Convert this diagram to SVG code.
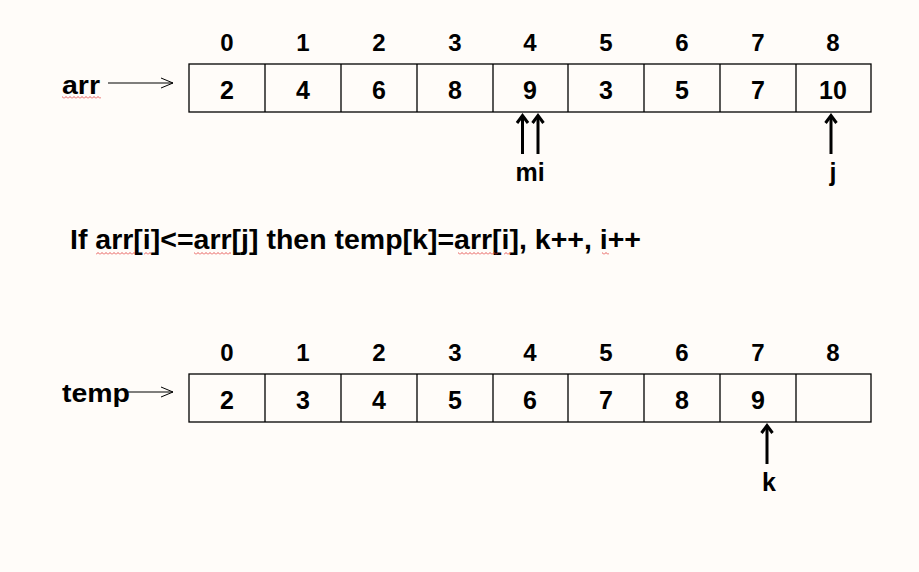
<svg xmlns="http://www.w3.org/2000/svg" width="919" height="572" viewBox="0 0 919 572">
<defs>
<style>
.t{font-family:"Liberation Sans",Arial,sans-serif;font-weight:bold;fill:#000}
.d{font-size:25px;text-anchor:middle}
.h{font-size:24px;text-anchor:middle}
.cell{fill:none;stroke:#000;stroke-width:1.3}
.thin{stroke:#000;stroke-width:1.2;fill:none}
.up{stroke:#000;stroke-width:3;fill:none}
.head{stroke:#000;stroke-width:3;fill:none;stroke-linejoin:miter}
</style>
<pattern id="sq" width="4" height="3" patternUnits="userSpaceOnUse">
<path d="M0 2.5 L2 0.5 L4 2.5" stroke="#e03030" fill="none" stroke-width="0.8"/>
</pattern>
<marker id="open" markerWidth="14" markerHeight="12" refX="13" refY="6" orient="auto" markerUnits="userSpaceOnUse">
<path d="M1 1 L13 6 L1 11" fill="none" stroke="#000" stroke-width="1"/>
</marker>
</defs>
<rect width="919" height="572" fill="#FFFCF9"/>

<g id="arr-label">
<text class="t" x="62" y="94" font-size="25" textLength="38" lengthAdjust="spacingAndGlyphs">arr</text>
<rect x="62" y="96" width="39" height="3" fill="url(#sq)"/>
</g>

<g id="arr-array">
<rect class="cell" x="189" y="64" width="682" height="48"/>
<path class="cell" d="M265 64V112M341 64V112M417 64V112M493 64V112M568 64V112M644 64V112M720 64V112M796 64V112"/>
<text class="t h" y="51"><tspan x="227">0</tspan><tspan x="303">1</tspan><tspan x="379">2</tspan><tspan x="455">3</tspan><tspan x="530">4</tspan><tspan x="606">5</tspan><tspan x="682">6</tspan><tspan x="758">7</tspan><tspan x="833">8</tspan></text>
<text class="t d" y="99"><tspan x="227">2</tspan><tspan x="303">4</tspan><tspan x="379">6</tspan><tspan x="455">8</tspan><tspan x="530">9</tspan><tspan x="606">3</tspan><tspan x="682">5</tspan><tspan x="758">7</tspan><tspan x="833">10</tspan></text>
</g>

<g id="mi-pointer"><text class="t" x="530" y="181" font-size="25" text-anchor="middle">mi</text></g>
<g id="j-pointer"><text class="t" x="833" y="181" font-size="25" text-anchor="middle">j</text></g>

<g id="condition">
<text class="t" x="70" y="249" font-size="28" textLength="571" lengthAdjust="spacingAndGlyphs">If arr[i]&lt;=arr[j] then temp[k]=arr[i], k++, i++</text>
<rect x="96" y="252" width="39" height="3" fill="url(#sq)"/>
<rect x="144" y="252" width="7" height="3" fill="url(#sq)"/>
<rect x="194" y="252" width="37" height="3" fill="url(#sq)"/>
<rect x="458" y="252" width="40" height="3" fill="url(#sq)"/>
<rect x="504" y="252" width="7" height="3" fill="url(#sq)"/>
<rect x="602" y="252" width="7" height="3" fill="url(#sq)"/>
</g>

<g id="temp-label">
<text class="t" x="62" y="402" font-size="25" textLength="68" lengthAdjust="spacingAndGlyphs">temp</text>
</g>

<g id="temp-array">
<rect class="cell" x="189" y="374" width="682" height="48"/>
<path class="cell" d="M265 374V422M341 374V422M417 374V422M493 374V422M568 374V422M644 374V422M720 374V422M796 374V422"/>
<text class="t h" y="361"><tspan x="227">0</tspan><tspan x="303">1</tspan><tspan x="379">2</tspan><tspan x="455">3</tspan><tspan x="530">4</tspan><tspan x="606">5</tspan><tspan x="682">6</tspan><tspan x="758">7</tspan><tspan x="833">8</tspan></text>
<text class="t d" y="409"><tspan x="227">2</tspan><tspan x="303">3</tspan><tspan x="379">4</tspan><tspan x="455">5</tspan><tspan x="530">6</tspan><tspan x="606">7</tspan><tspan x="682">8</tspan><tspan x="758">9</tspan></text>
</g>

<g id="k-pointer"><text class="t" x="769" y="491" font-size="25" text-anchor="middle">k</text></g>

<g id="connectors">
<line class="thin" x1="108" y1="83" x2="173" y2="83" marker-end="url(#open)"/>
<line class="thin" x1="128" y1="392" x2="173" y2="392" marker-end="url(#open)"/>
<line class="up" x1="522.5" y1="154" x2="522.5" y2="116"/>
<path class="head" d="M517 123 L522.5 115.5 L528 123"/>
<line class="up" x1="538" y1="154" x2="538" y2="116"/>
<path class="head" d="M532.5 123 L538 115.5 L543.5 123"/>
<line class="up" x1="831" y1="154" x2="831" y2="116"/>
<path class="head" d="M825.5 123 L831 115.5 L836.5 123"/>
<line class="up" x1="767" y1="464" x2="767" y2="426"/>
<path class="head" d="M761.5 433 L767 425.5 L772.5 433"/>
</g>
</svg>
